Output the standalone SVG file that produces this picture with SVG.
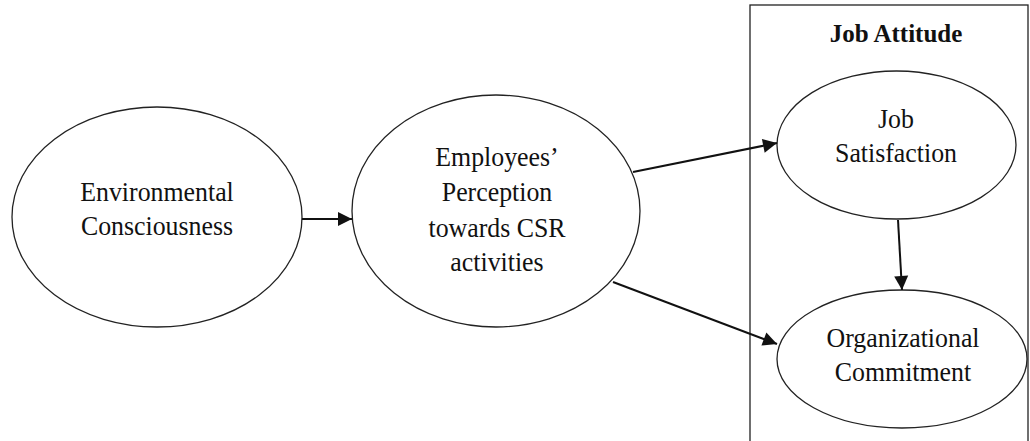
<svg xmlns="http://www.w3.org/2000/svg" width="1030" height="441" viewBox="0 0 1030 441">
  <style>
    .node { fill: #ffffff; stroke: #222222; stroke-width: 1.3; }
    .label { font-family: "Liberation Serif", "Times New Roman", serif; font-size: 27.5px; fill: #111111; text-anchor: middle; }
    .title { font-family: "Liberation Serif", "Times New Roman", serif; font-size: 25px; font-weight: bold; fill: #111111; text-anchor: middle; }
    .edge { fill: none; stroke: #111111; stroke-width: 2; }
    .frame { fill: none; stroke: #222222; stroke-width: 1.3; }
  </style>
  <defs>
    <marker id="arrow" markerUnits="userSpaceOnUse" markerWidth="16" markerHeight="16" viewBox="0 0 16 16" refX="15" refY="8" orient="auto">
      <path d="M1,1 L15,8 L1,15 Z" fill="#111111"/>
    </marker>
  </defs>
  <rect width="1030" height="441" fill="#ffffff"/>

  <!-- Job Attitude grouping box -->
  <g id="job-attitude">
    <rect class="frame" x="750" y="5" width="278" height="445"/>
    <text class="title" x="896" y="42">Job Attitude</text>
  </g>

  <!-- node labels are set slightly condensed (scale 0.94 horizontally) -->
  <g id="environmental-consciousness">
    <ellipse class="node" cx="157" cy="217" rx="145" ry="110"/>
    <g transform="translate(157 0) scale(0.94 1)">
      <text class="label" x="0" y="201.5">Environmental</text>
      <text class="label" x="0" y="235.5">Consciousness</text>
    </g>
  </g>

  <g id="csr-perception">
    <ellipse class="node" cx="496" cy="211" rx="144" ry="116"/>
    <g transform="translate(497 0) scale(0.94 1)">
      <text class="label" x="0" y="166">Employees’</text>
      <text class="label" x="0" y="201">Perception</text>
      <text class="label" x="0" y="237">towards CSR</text>
      <text class="label" x="0" y="271">activities</text>
    </g>
  </g>

  <g id="job-satisfaction">
    <ellipse class="node" cx="896.5" cy="145" rx="119.5" ry="74"/>
    <g transform="translate(896 0) scale(0.94 1)">
      <text class="label" x="0" y="128">Job</text>
      <text class="label" x="0" y="162">Satisfaction</text>
    </g>
  </g>

  <g id="organizational-commitment">
    <ellipse class="node" cx="902" cy="359" rx="125" ry="69"/>
    <g transform="translate(903 0) scale(0.94 1)">
      <text class="label" x="0" y="347">Organizational</text>
      <text class="label" x="0" y="381">Commitment</text>
    </g>
  </g>

  <g id="connectors">
    <line class="edge" x1="302" y1="219" x2="352" y2="219" marker-end="url(#arrow)"/>
    <line class="edge" x1="633" y1="172" x2="777" y2="143" marker-end="url(#arrow)"/>
    <line class="edge" x1="613" y1="282" x2="777" y2="344" marker-end="url(#arrow)"/>
    <line class="edge" x1="898" y1="220" x2="902" y2="290" marker-end="url(#arrow)"/>
  </g>
</svg>
